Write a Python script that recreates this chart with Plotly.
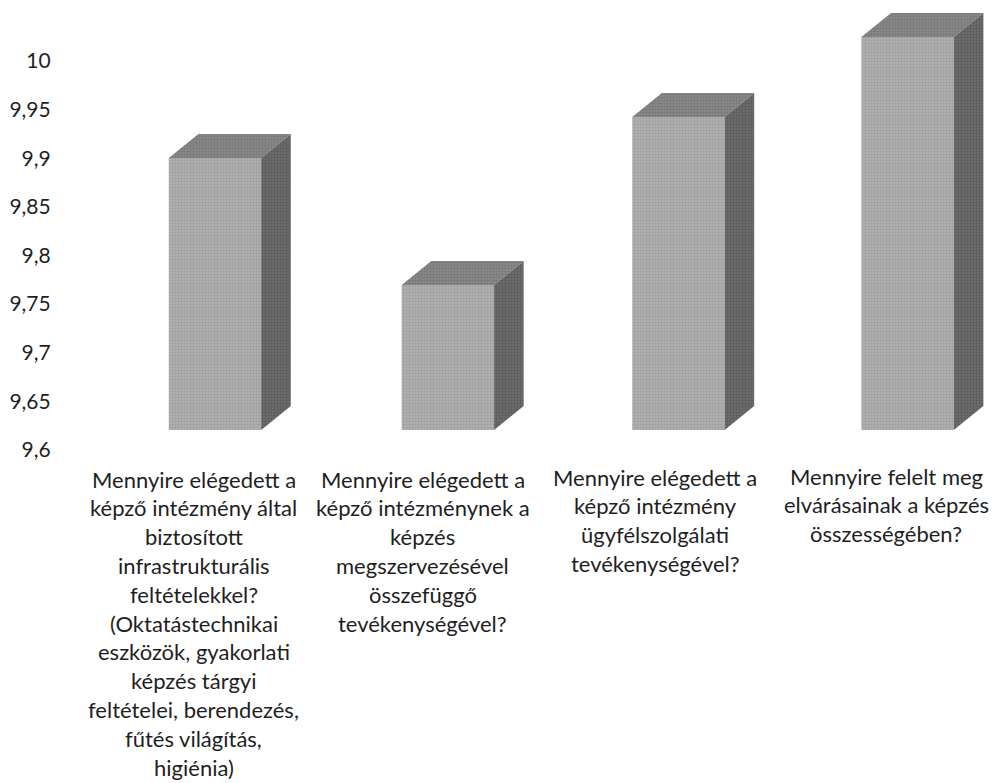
import plotly.graph_objects as go

categories = [
    ["Mennyire elégedett a", "képző intézmény által", "biztosított", "infrastrukturális",
     "feltételekkel?", "(Oktatástechnikai", "eszközök, gyakorlati", "képzés tárgyi",
     "feltételei, berendezés,", "fűtés világítás,", "higiénia)"],
    ["Mennyire elégedett a", "képző intézménynek a", "képzés", "megszervezésével",
     "összefüggő", "tevékenységével?"],
    ["Mennyire elégedett a", "képző intézmény", "ügyfélszolgálati", "tevékenységével?"],
    ["Mennyire felelt meg", "elvárásainak a képzés", "összességében?"],
]
values = [9.9003, 9.7697, 9.9424, 10.0247]
y_tick_values = [9.6, 9.65, 9.7, 9.75, 9.8, 9.85, 9.9, 9.95, 10]
y_tick_labels = ["9,6", "9,65", "9,7", "9,75", "9,8", "9,85", "9,9", "9,95", "10"]

W, H = 994, 783
PLOT_BOTTOM = 450
BASE = 9.6206
BAR_W = 0.40
DX = 0.128
DY = 0.0247
X_POS = [0, 1.008, 2.006, 2.998]
LABEL_X = [-0.093, 0.90, 1.905, 2.905]
LABEL_TOP = [479, 479, 477, 476]
LINE_STEP = 28.8
TEXT = "#1f1f1f"
FONT = "Lato"
FRONT = ("#b4b4b4", "#8a8a8a")
TOP = ("#8c8c8c", "#646464")
SIDE = ("#707070", "#454545")

fig = go.Figure()


def face(xs, ys, colors):
    fig.add_trace(go.Scatter(
        x=xs, y=ys, mode="lines", fill="toself", line=dict(width=0, color=colors[1]),
        fillcolor=colors[0], hoverinfo="skip", showlegend=False,
        fillpattern=dict(shape=".", size=3, solidity=0.5, fgcolor=colors[1], bgcolor=colors[0]),
    ))


for x, v in zip(X_POS, values):
    l, r = x - BAR_W / 2, x + BAR_W / 2
    face([l, r, r + DX, l + DX, l], [v, v, v + DY, v + DY, v], TOP)
    face([r, r + DX, r + DX, r, r], [BASE, BASE + DY, v + DY, v, BASE], SIDE)

fig.add_trace(go.Bar(
    x=X_POS, y=[v - BASE for v in values], base=BASE, width=BAR_W,
    marker=dict(color=FRONT[0], line_width=0,
                pattern=dict(shape=".", size=3, solidity=0.5, fgcolor=FRONT[1], bgcolor=FRONT[0])),
    showlegend=False,
))

annotations = []
for lines, lx, top in zip(categories, LABEL_X, LABEL_TOP):
    for i, line in enumerate(lines):
        annotations.append(dict(
            x=lx, xref="x", y=0, yref="paper", yanchor="middle", xanchor="center",
            yshift=-(top + i * LINE_STEP - PLOT_BOTTOM), text=line, showarrow=False,
            font=dict(family=FONT, size=22, color=TEXT),
        ))

fig.update_layout(
    width=W, height=H, margin=dict(l=0, r=0, t=0, b=H - PLOT_BOTTOM),
    paper_bgcolor="white", plot_bgcolor="white", showlegend=False,
    annotations=annotations,
    xaxis=dict(range=[-0.9307, 3.372], showgrid=False, zeroline=False, showticklabels=False,
               showline=False, ticks=""),
    yaxis=dict(range=[9.6, 10.0627], tickvals=y_tick_values, ticktext=y_tick_labels,
               showgrid=False, zeroline=False, showline=False, ticks="",
               tickfont=dict(family=FONT, size=21, color=TEXT), automargin=False,
               anchor="free", position=0.051),
)
fig.write_html("out.html", config={"displayModeBar": False},
               post_script="document.body.style.margin='0';document.body.style.overflow='hidden';")
